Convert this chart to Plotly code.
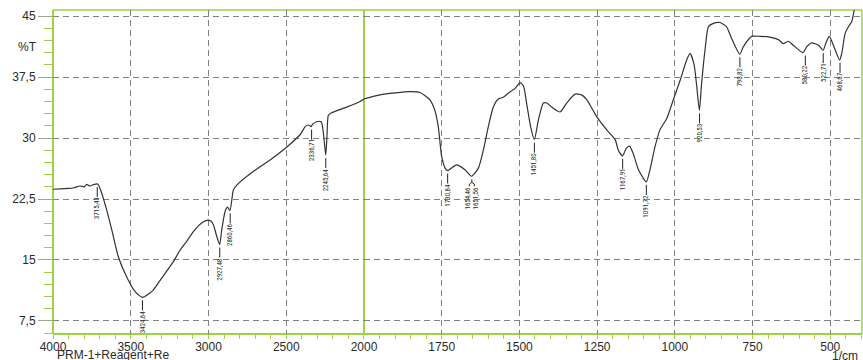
import plotly.graph_objects as go

# ---------------- data ----------------
wavenumber = [
    4000, 3950, 3900, 3870, 3826, 3800, 3783, 3762, 3735, 3712, 3690, 3654, 3622,
    3580, 3526, 3472, 3425, 3380, 3355, 3311, 3226, 3183, 3140, 3097, 3040, 3005,
    2985, 2968, 2947, 2928, 2915, 2893, 2878, 2862, 2850, 2840, 2818, 2711, 2604,
    2496, 2411, 2378, 2357, 2340, 2330, 2304, 2275, 2261, 2246, 2238, 2229, 2208,
    2111, 2026, 2000,
    1948, 1852, 1820, 1788, 1772, 1761, 1755, 1750, 1739, 1731, 1702, 1675, 1654,
    1632, 1616, 1600, 1584, 1568, 1552, 1536, 1514, 1498, 1487, 1477, 1464, 1452,
    1439, 1423, 1412, 1396, 1369, 1348, 1321, 1300, 1283, 1251, 1219, 1192, 1182,
    1168, 1157, 1146, 1134, 1117, 1092, 1080, 1064, 1048, 1026, 1005, 983, 962,
    951, 938, 930, 921, 914, 903, 892, 876, 855, 834, 818, 791, 780, 753, 726, 694,
    667, 651, 635, 619, 588, 576, 560, 538, 523, 513, 503, 492, 470, 463, 452, 438,
    431, 423, 415,
]
transmittance = [
    23.7, 23.75, 23.8, 23.85, 24.1, 24.0, 24.3, 24.1, 24.3, 24.35, 23.4, 21.1, 18.7,
    15.4, 12.9, 11.1, 10.4, 10.9, 11.3, 12.5, 14.8, 16.2, 17.3, 18.5, 19.6, 19.9,
    19.8, 19.3, 17.9, 16.9, 18.7, 21.0, 21.5, 21.1, 22.4, 23.6, 24.2, 25.9, 27.3,
    28.9, 30.4, 31.4, 31.6, 31.4, 31.7, 32.0, 32.0, 30.6, 27.9, 30.2, 32.8, 33.1,
    33.8, 34.5, 34.8,
    35.3, 35.7, 35.6, 34.7, 33.4, 31.4, 29.3, 27.7, 26.3, 26.0, 26.7, 26.1, 25.3,
    26.3, 28.5, 31.4, 33.8, 34.8, 35.0, 35.5, 36.1, 36.8, 36.4, 34.3, 31.4, 29.8,
    32.2, 34.3, 34.3, 33.8, 33.2, 34.3, 35.4, 35.3, 34.7, 32.6, 31.0, 29.8, 28.5,
    27.8, 28.7, 29.0, 28.1, 26.1, 24.6, 26.1, 28.9, 31.0, 32.4, 34.7, 37.1, 39.6,
    40.4, 39.0, 36.5, 33.4, 36.7, 40.8, 43.7, 44.1, 44.2, 43.7, 42.3, 40.3, 41.2, 42.5, 42.5, 42.4,
    42.1, 41.6, 41.9, 41.4, 40.5, 41.2, 41.7, 41.4, 40.8, 41.8, 42.5, 41.6, 39.6, 40.4, 42.9, 43.9,
    44.3, 45.7, 46.5,
]

peak_wavenumber = [3715.41, 3424.64, 2927.48, 2860.46, 2336.71, 2245.64, 1730.84,
                   1654.46, 1651.56, 1451.80, 1167.91, 1091.72, 920.53, 790.82,
                   580.22, 522.71, 468.67]
peak_transmittance = [24.35, 10.4, 16.9, 21.1, 31.4, 27.9, 26.0,
                      25.3, 25.3, 29.8, 27.8, 24.6, 33.4, 40.3,
                      40.5, 40.8, 39.6]
peak_labels = ["3715,41", "3424,64", "2927,48", "2860,46", "2336,71", "2245,64", "1730,84",
               "1654,46", "1651,56", "1451,80", "1167,91", "1091,72", "920,53", "790,82",
               "580,22", "522,71", "468,67"]

y_tick_values = [7.5, 15, 22.5, 30, 37.5, 45]
y_tick_labels = ["7,5", "15", "22,5", "30", "37,5", "45"]
x_left_ticks = [4000, 3500, 3000, 2500, 2000]
x_right_ticks = [1750, 1500, 1250, 1000, 750, 500]

# ---------------- styling ----------------
SPLIT = 2000
FRAC = 0.3844
GREEN = "#9ed048"
GRID = "#808080"
TXT = "#2a2a2a"
FONT = "Liberation Sans, Arial, sans-serif"
NARROW = "Liberation Sans Narrow, Arial Narrow, Roboto Condensed, Liberation Sans, sans-serif"

left_x = [w for w in wavenumber if w >= SPLIT]
left_y = [t for w, t in zip(wavenumber, transmittance) if w >= SPLIT]
right_x = [w for w in wavenumber if w <= SPLIT]
right_y = [t for w, t in zip(wavenumber, transmittance) if w <= SPLIT]

line_style = dict(color="#333333", width=1.2, shape="spline", smoothing=0.6)
fig = go.Figure()
fig.add_trace(go.Scatter(x=left_x, y=left_y, xaxis="x", yaxis="y", mode="lines",
                         line=line_style, hoverinfo="skip", showlegend=False))
fig.add_trace(go.Scatter(x=right_x, y=right_y, xaxis="x2", yaxis="y", mode="lines",
                         line=line_style, hoverinfo="skip", showlegend=False))

shapes = []
annotations = []
fork = {"1654,46": -2.5, "1651,56": 2.5}
for wn, t, lab in zip(peak_wavenumber, peak_transmittance, peak_labels):
    xr = "x" if wn >= SPLIT else "x2"
    mk = dict(type="line", xref=xr, yref="y", ysizemode="pixel", yanchor=t,
              line=dict(color="#222222", width=1))
    if lab in fork:
        dx = fork[lab]
        shapes.append(dict(mk, xsizemode="pixel", xanchor=1653, x0=0, x1=dx, y0=-6, y1=-8))
        shapes.append(dict(mk, xsizemode="pixel", xanchor=1653, x0=dx, x1=dx, y0=-8, y1=-10))
        if dx < 0:
            shapes.append(dict(mk, xsizemode="pixel", xanchor=1653, x0=0, x1=0, y0=-3, y1=-6))
        annotations.append(dict(x=1653, y=t, xref=xr, yref="y", text=lab, textangle=-90,
                                showarrow=False, xanchor="center", yanchor="top",
                                xshift=dx * 1.6, yshift=-9, borderpad=0,
                                font=dict(family=NARROW, size=7, color=TXT)))
    else:
        shapes.append(dict(mk, x0=wn, x1=wn, y0=-3, y1=-13))
        annotations.append(dict(x=wn, y=t, xref=xr, yref="y", text=lab, textangle=-90,
                                showarrow=False, xanchor="center", yanchor="top",
                                yshift=-12, borderpad=0,
                                font=dict(family=NARROW, size=7, color=TXT)))

# green frame
for x0, x1, y0, y1, w in [(0, 0, 0, 1, 2), (FRAC, FRAC, 0, 1, 2), (1, 1, 0, 1, 1.5),
                          (0, 1, 1, 1, 1.5), (0, 1, 0, 0, 2)]:
    shapes.append(dict(type="line", xref="paper", yref="paper", x0=x0, x1=x1, y0=y0, y1=y1,
                       line=dict(color=GREEN, width=w), layer="between"))

annotations += [
    dict(x=-0.032, y=0.886, xref="paper", yref="paper", text="%T", showarrow=False,
         xanchor="center", yanchor="middle",
         font=dict(family=FONT, size=12, color=TXT)),
    dict(x=0.0025, y=-0.066, xref="paper", yref="paper", text="PRM-1+Reagent+Re",
         showarrow=False, xanchor="left", yanchor="middle",
         font=dict(family=FONT, size=12, color=TXT)),
    dict(x=0.998, y=-0.068, xref="paper", yref="paper", text="1/cm",
         showarrow=False, xanchor="right", yanchor="middle",
         font=dict(family=FONT, size=12, color=TXT)),
]

xcommon = dict(showgrid=True, gridcolor=GRID, griddash="6px,4px", gridwidth=1,
               zeroline=False, showline=False, ticks="outside", ticklen=2,
               tickcolor=GREEN, tickfont=dict(family=FONT, size=12, color=TXT),
               anchor="y", tickmode="array", automargin=False)

fig.update_layout(
    width=863, height=360,
    margin=dict(l=53, r=1, t=10, b=26, autoexpand=False),
    paper_bgcolor="white", plot_bgcolor="white",
    xaxis=dict(xcommon, domain=[0, FRAC], range=[4000, 2000],
               tickvals=x_left_ticks, ticktext=[str(v) for v in x_left_ticks],
               minor=dict(tickmode="linear", tick0=0, dtick=100, ticks="outside",
                          ticklen=4, tickcolor=GREEN, showgrid=False)),
    xaxis2=dict(xcommon, domain=[FRAC, 1], range=[2000, 398],
                tickvals=x_right_ticks, ticktext=[str(v) for v in x_right_ticks],
                minor=dict(tickmode="linear", tick0=0, dtick=50, ticks="outside",
                           ticklen=4, tickcolor=GREEN, showgrid=False)),
    yaxis=dict(domain=[0, 1], range=[5.9, 45.74], anchor="x", automargin=False,
               tickmode="array", tickvals=y_tick_values, ticktext=y_tick_labels,
               showgrid=True, gridcolor=GRID, griddash="6px,4px", gridwidth=1,
               zeroline=False, showline=False, ticks="outside", ticklen=14,
               tickcolor="#9aa890", tickfont=dict(family=FONT, size=12, color=TXT),
               minor=dict(tickmode="linear", tick0=0, dtick=1.5, ticks="outside",
                          ticklen=8, tickcolor=GREEN, showgrid=False)),
    shapes=shapes,
    annotations=annotations,
    showlegend=False,
)

fig.write_html(
    "out.html",
    config={"displayModeBar": False},
    post_script="document.body.style.margin='0px';document.body.style.overflow='hidden';",
)
